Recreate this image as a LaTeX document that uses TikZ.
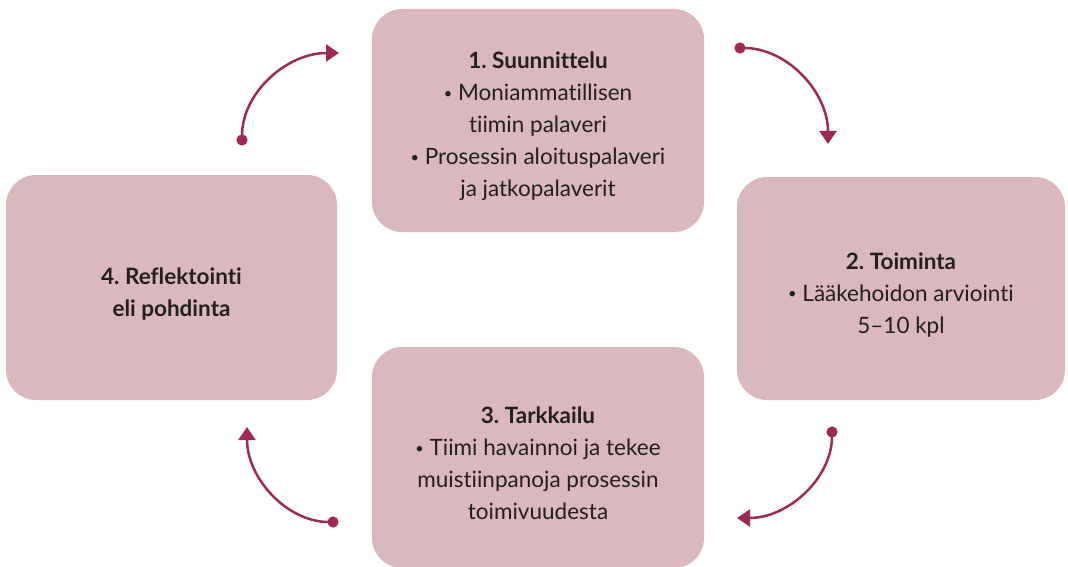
\documentclass[tikz,border=0pt]{standalone}
\usepackage{fontspec}
\setmainfont{Lato}[Ligatures={TeX,NoCommon}]
\usetikzlibrary{arrows.meta}
\definecolor{boxpink}{HTML}{D9B8BE}
\definecolor{cyclered}{HTML}{9B2A56}
\definecolor{textdark}{HTML}{231F20}
\newcommand{\itemdot}{\raisebox{0.12em}{\scalebox{0.65}{\textbullet}}}
\newcommand{\stagehead}[1]{\rule{0pt}{29pt}\textbf{#1}}
\tikzstyle{stage}=[rounded corners=30pt, fill=boxpink, text=textdark, align=center, font=\fontsize{22.5}{32}\selectfont\frenchspacing, minimum width=332pt, minimum height=223pt, inner sep=0pt]
\tikzstyle{cycle}=[{Circle[length=11pt]}-{Triangle[width=17pt,length=13pt]}, line width=2.5pt, draw=cyclered]

\begin{document}
\begin{tikzpicture}[x=1pt,y=-1pt]
        \useasboundingbox (0,0) rectangle (1068,567);

        \node[stage] (s1) at (538,120.5) {\stagehead{1. Suunnittelu}\\\itemdot{} Moniammatillisen\\tiimin palaveri\\\itemdot{} Prosessin aloituspalaveri\\ja jatkopalaverit};
        \node[stage, minimum width=328pt] (s2) at (901,288.5) {\stagehead{2. Toiminta}\\\itemdot{} Lääkehoidon arviointi\\5–10 kpl};
        \node[stage, minimum height=221pt] (s3) at (538,457.5) {\stagehead{3. Tarkkailu}\\\itemdot{} Tiimi havainnoi ja tekee\\muistiinpanoja prosessin\\toimivuudesta};
        \node[stage, minimum width=331pt, minimum height=225pt] (s4) at (171.5,287.5) {\stagehead{4. Reflektointi}\\\textbf{eli pohdinta}};

        \coordinate (a1s) at (242,145.5);
        \coordinate (a1e) at (339,53);
        \coordinate (a2s) at (734.5,48);
        \coordinate (a2e) at (828,144);
        \coordinate (a3s) at (832,426.5);
        \coordinate (a3e) at (737,518);
        \coordinate (a4s) at (338.5,522);
        \coordinate (a4e) at (247,427);

        \draw[cycle] (a1s) to[out=90,in=180] (a1e);
        \draw[cycle] (a2s) to[out=0,in=90] (a2e);
        \draw[cycle] (a3s) to[out=-90,in=0] (a3e);
        \draw[cycle] (a4s) to[out=180,in=-90] (a4e);
\end{tikzpicture}
\end{document}
